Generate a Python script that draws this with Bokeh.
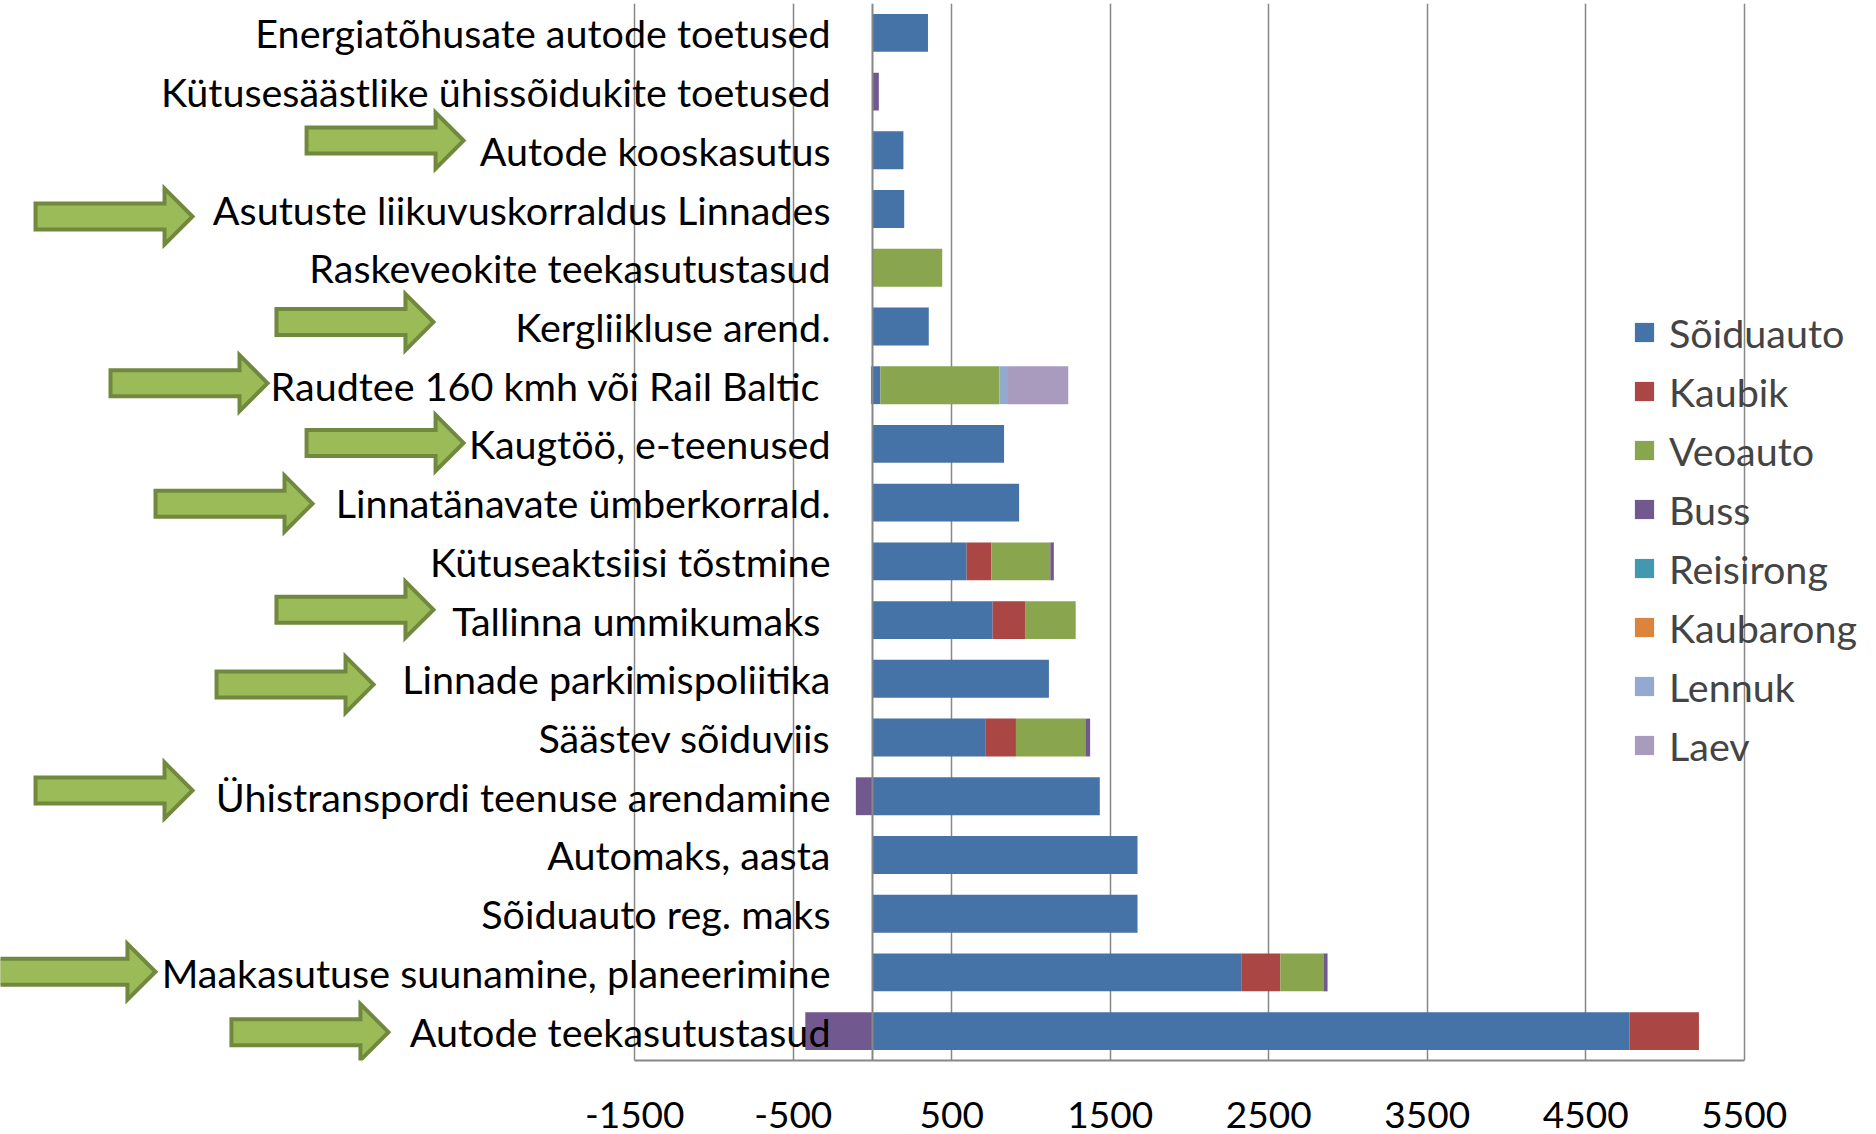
from bokeh.plotting import figure
from bokeh.models import Range1d, FixedTicker, Legend, LegendItem, ColumnDataSource, Span
from bokeh.core.properties import value
from bokeh.embed import file_html
from bokeh.resources import INLINE

# ---------------- data ----------------
categories = [
    "Energiatõhusate autode toetused",
    "Kütusesäästlike ühissõidukite toetused",
    "Autode kooskasutus",
    "Asutuste liikuvuskorraldus Linnades",
    "Raskeveokite teekasutustasud",
    "Kergliikluse arend.",
    "Raudtee 160 kmh või Rail Baltic ",
    "Kaugtöö, e-teenused",
    "Linnatänavate ümberkorrald.",
    "Kütuseaktsiisi tõstmine",
    "Tallinna ummikumaks ",
    "Linnade parkimispoliitika",
    "Säästev sõiduviis",
    "Ühistranspordi teenuse arendamine",
    "Automaks, aasta",
    "Sõiduauto reg. maks",
    "Maakasutuse suunamine, planeerimine",
    "Autode teekasutustasud",
]

soiduauto = [350, 0, 195, 200, 0, 355, 50, 830, 925, 594, 758, 1113, 715, 1434, 1672, 1672, 2330, 4777]
kaubik    = [0, 0, 0, 0, 0, 0, 0, 0, 0, 156, 208, 0, 190, 0, 0, 0, 243, 437]
veoauto   = [0, 0, 0, 0, 440, 0, 750, 0, 0, 372, 316, 0, 438, 0, 0, 0, 272, 0]
buss      = [0, 40, 0, 0, 0, 0, 0, 0, 0, 22, 0, 0, 30, -105, 0, 0, 26, -424]
reisirong = [0, 0, 0, 0, 0, 0, -10, 0, 0, 0, 0, 0, 0, 0, 0, 0, 0, 0]
kaubarong = [0, 0, 0, 0, 0, 0, 0, 0, 0, 0, 0, 0, 0, 0, 0, 0, 0, 0]
lennuk    = [0, 0, 0, 0, 0, 0, 55, 0, 0, 0, 0, 0, 0, 0, 0, 0, 0, 0]
laev      = [0, 0, 0, 0, 0, 0, 380, 0, 0, 0, 0, 0, 0, 0, 0, 0, 0, 0]

series_names = ["Sõiduauto", "Kaubik", "Veoauto", "Buss", "Reisirong", "Kaubarong", "Lennuk", "Laev"]
series_values = [soiduauto, kaubik, veoauto, buss, reisirong, kaubarong, lennuk, laev]

x_ticks = [-1500, -500, 500, 1500, 2500, 3500, 4500, 5500]
x_tick_labels = ["-1500", "-500", "500", "1500", "2500", "3500", "4500", "5500"]

# categories marked with a green arrow
arrow_categories = [
    "Autode kooskasutus",
    "Asutuste liikuvuskorraldus Linnades",
    "Kergliikluse arend.",
    "Raudtee 160 kmh või Rail Baltic ",
    "Kaugtöö, e-teenused",
    "Linnatänavate ümberkorrald.",
    "Tallinna ummikumaks ",
    "Linnade parkimispoliitika",
    "Ühistranspordi teenuse arendamine",
    "Maakasutuse suunamine, planeerimine",
    "Autode teekasutustasud",
]

# ---------------- layout / style ----------------
series_colors = ["#4572A7", "#AA4643", "#89A54E", "#71588F", "#4198AF", "#DB843D", "#93A9CF", "#A99BBD"]
FONT = "Lato"
FSIZE = "39.5px"
TICK_FSIZE = "37px"
W, H = 1876, 1134
TOP = 3
BOTTOM = 74
PX_PER_UNIT = 0.1585          # screen px per data unit on x
ZERO_X = 872                  # canvas px of x = 0
n = len(categories)
frame_h = H - BOTTOM - TOP
ROW_PX = frame_h / n
GRID_COLOR = "#878787"

# arrow tip x (data units) and vertical nudge (px, + = up), one per arrow category
arrow_layout = [(-2580, 9.7), (-4290, -7.5), (-2770, 4.4), (-3817, 2.0), (-2580, 1.0), (-3533, -1.0),
                (-2770, 10.4), (-3148, -5.8), (-4290, 5.8), (-4524, 0.7), (-3054, -1.0)]

ypos = [n - 1 - i for i in range(n)]

p = figure(width=W, height=H, output_backend="svg", toolbar_location=None,
           x_range=Range1d(-ZERO_X / PX_PER_UNIT, (W - ZERO_X) / PX_PER_UNIT),
           y_range=Range1d(-0.5, n - 0.5),
           min_border_left=0, min_border_right=0, min_border_top=TOP, min_border_bottom=BOTTOM)
p.outline_line_color = None
p.background_fill_color = "white"
p.yaxis.visible = False
p.ygrid.visible = False

p.xaxis.ticker = FixedTicker(ticks=x_ticks)
p.xaxis.major_label_overrides = dict(zip(x_ticks, x_tick_labels))
p.xaxis.bounds = (-1500, 5500)
p.xaxis.axis_line_color = GRID_COLOR
p.xaxis.axis_line_width = 2
p.xaxis.major_tick_line_color = None
p.xaxis.minor_tick_line_color = None
p.xaxis.major_label_text_font = FONT
p.xaxis.major_label_text_font_size = TICK_FSIZE
p.xaxis.major_label_text_color = "black"
p.xaxis.major_label_standoff = 35
p.xgrid.ticker = FixedTicker(ticks=x_ticks)
p.xgrid.grid_line_color = GRID_COLOR
p.xgrid.grid_line_width = 1.5

# stacked bars: positives stack rightwards, negatives leftwards (as in the original)
pos_acc = [0.0] * n
neg_acc = [0.0] * n
legend_items = []
for name, vals, col in zip(series_names, series_values, series_colors):
    lefts, rights = [], []
    for i, v in enumerate(vals):
        if v >= 0:
            lefts.append(pos_acc[i]); rights.append(pos_acc[i] + v); pos_acc[i] += v
        else:
            lefts.append(neg_acc[i] + v); rights.append(neg_acc[i]); neg_acc[i] += v
    src = ColumnDataSource(dict(y=ypos, left=lefts, right=rights))
    r = p.hbar(y="y", left="left", right="right", height=0.645, source=src,
               fill_color=col, line_color=None)
    legend_items.append(LegendItem(label=name, renderers=[r]))

# vertical axis line at 0 (drawn over bars)
p.add_layout(Span(location=0, dimension="height", line_color=GRID_COLOR, line_width=2))

# green arrows
HEAD_L = 28 / PX_PER_UNIT
ARROW_L = 157 / PX_PER_UNIT
xs, ys = [], []
for cat, (tip, dy) in zip(arrow_categories, arrow_layout):
    yc = ypos[categories.index(cat)] + dy / ROW_PX
    hh = 28 / ROW_PX
    bh = 13 / ROW_PX
    x0, xb = tip - ARROW_L, tip - HEAD_L
    xs.append([x0, xb, xb, tip, xb, xb, x0])
    ys.append([yc + bh, yc + bh, yc + hh, yc, yc - hh, yc - bh, yc - bh])
p.patches(xs, ys, fill_color="#9BBB59", line_color="#71893F", line_width=4, line_join="miter")

# category labels (drawn at the zero line, like the original axis labels)
lab_src = ColumnDataSource(dict(x=[0] * n, y=ypos, label=categories))
p.text(x="x", y="y", text="label", source=lab_src, x_offset=-42, text_align="right",
       text_baseline="middle", text_font=value(FONT), text_font_size=FSIZE, text_color="black")

legend = Legend(items=legend_items, location=(1632, 291), orientation="vertical",
                glyph_width=24, glyph_height=24, label_standoff=13, spacing=11, padding=0, margin=0,
                border_line_color=None, background_fill_alpha=0,
                label_text_font=FONT, label_text_font_size=FSIZE, label_height=48)
p.add_layout(legend)

open("out.html", "w").write(file_html(p, INLINE))
